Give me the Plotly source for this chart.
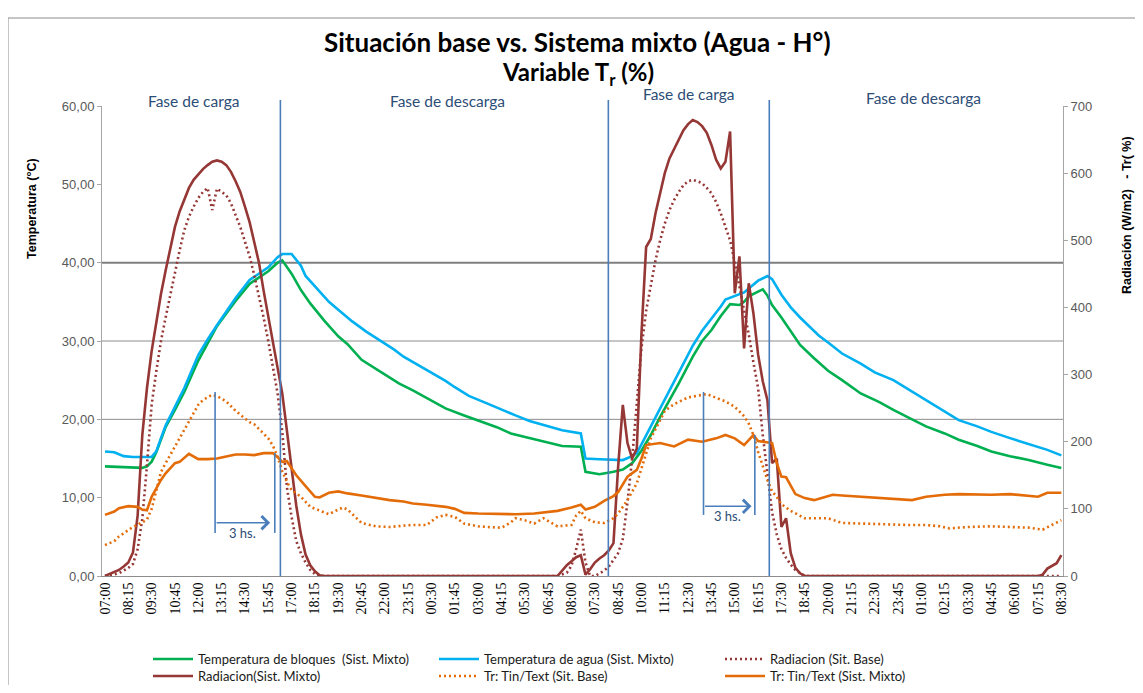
import plotly.graph_objects as go

# ---------------- data (x = 15-minute sample index) ----------------
tick_labels = ["07:00", "08:15", "09:30", "10:45", "12:00", "13:15", "14:30", "15:45", "17:00", "18:15",
               "19:30", "20:45", "22:00", "23:15", "00:30", "01:45", "03:00", "04:15", "05:30", "06:45",
               "08:00", "07:30", "08:45", "10:00", "11:15", "12:30", "13:45", "15:00", "16:15", "17:30",
               "18:45", "20:00", "21:15", "22:30", "23:45", "01:00", "02:15", "03:30", "04:45", "06:00",
               "07:15", "08:30"]
tick_step = 5

temp_bloques = [(0, 14.0), (4, 13.9), (8, 13.8), (9, 14.0), (10, 14.6), (11, 15.8), (12, 17.5), (13, 19.0),
                (15, 21.2), (17, 23.5), (20, 27.5), (22, 29.7), (24, 31.9), (26, 33.5), (28, 35.1), (31, 37.3),
                (33, 38.1), (35, 38.9), (37, 40.0), (38, 40.3), (40, 38.6), (42, 36.5), (44, 34.8), (47, 32.6),
                (50, 30.6), (52, 29.6), (55, 27.6), (59, 26.1), (63, 24.6), (66, 23.7), (70, 22.4), (73, 21.4),
                (77, 20.5), (80, 19.9), (84, 19.0), (87, 18.2), (91, 17.6), (95, 17.0), (98, 16.6), (102, 16.5),
                (103, 13.3), (106, 13.0), (109, 13.3), (111, 13.6), (113, 14.4), (115, 16.0), (117, 18.0),
                (119, 20.3), (121, 22.4), (123, 24.6), (126, 28.0), (128, 30.0), (130, 31.4), (132, 33.2),
                (134, 34.7), (136, 34.6), (137, 35.0), (138, 35.7), (140, 36.3), (141, 36.6), (142, 35.8),
                (143, 34.6), (145, 33.0), (147, 31.3), (149, 29.5), (152, 27.8), (155, 26.2), (158, 25.0),
                (162, 23.3), (166, 22.2), (169, 21.2), (173, 20.0), (176, 19.1), (180, 18.2), (183, 17.4),
                (187, 16.6), (190, 15.9), (194, 15.3), (198, 14.8), (202, 14.2), (205, 13.8)]

temp_agua = [(0, 15.9), (2, 15.8), (4, 15.3), (6, 15.2), (10, 15.2), (11, 15.9), (12, 17.6), (13, 19.2),
             (15, 21.6), (17, 24.0), (20, 28.2), (22, 30.2), (24, 32.0), (26, 33.8), (28, 35.5), (31, 37.8),
             (33, 38.6), (35, 39.4), (37, 40.7), (38, 41.1), (40, 41.1), (42, 39.6), (43, 38.3), (45, 37.0),
             (48, 35.0), (50, 34.0), (53, 32.5), (56, 31.2), (59, 30.1), (62, 28.9), (64, 28.0), (67, 27.0),
             (70, 25.9), (73, 24.9), (75, 24.1), (78, 23.0), (82, 22.0), (85, 21.2), (88, 20.5), (91, 19.8),
             (95, 19.1), (98, 18.6), (102, 18.2), (103, 15.0), (106, 14.9), (111, 14.8), (113, 15.3),
             (114, 15.7), (115, 16.8), (117, 19.1), (119, 21.3), (121, 23.5), (124, 27.0), (126, 29.4),
             (128, 31.3), (130, 32.8), (132, 34.4), (133, 35.3), (135, 35.7), (137, 36.2), (138, 36.7),
             (140, 37.7), (142, 38.3), (143, 37.9), (145, 35.9), (147, 34.3), (149, 33.0), (151, 31.8),
             (153, 30.7), (155, 29.8), (158, 28.4), (162, 27.1), (165, 26.0), (169, 25.0), (172, 23.9),
             (176, 22.5), (180, 21.0), (183, 19.9), (187, 19.1), (190, 18.4), (194, 17.6), (198, 16.9),
             (202, 16.1), (205, 15.4)]

rad_base = [(0, 0), (2, 2), (3, 4), (5, 12), (6, 18), (7, 40), (8, 85), (9, 165), (10, 255), (11, 305),
            (12, 350), (13, 385), (14, 420), (15, 455), (16, 485), (17, 515), (18, 535), (19, 550), (20, 563),
            (21, 572), (22, 578), (23, 545), (24, 577), (25, 572), (26, 567), (27, 555), (28, 538), (29, 520),
            (30, 498), (31, 476), (32, 448), (33, 418), (34, 385), (35, 350), (36, 312), (37, 272), (38, 215),
            (39, 132), (40, 88), (41, 52), (42, 34), (43, 20), (44, 9), (45, 3), (46, 0), (97, 0), (99, 5),
            (100, 15), (101, 40), (102, 69), (103, 20), (104, 0), (105, 0), (107, 8), (108, 14), (109, 25),
            (110, 34), (111, 55), (112, 110), (113, 175), (114, 255), (115, 340), (116, 395), (117, 435),
            (118, 470), (119, 500), (120, 525), (121, 545), (122, 560), (123, 572), (124, 582), (125, 588),
            (126, 590), (127, 588), (128, 585), (129, 578), (130, 570), (131, 557), (132, 540), (133, 520),
            (134, 500), (135, 467), (136, 433), (137, 395), (138, 360), (139, 318), (140, 280), (141, 210),
            (142, 150), (143, 95), (144, 62), (145, 40), (146, 27), (147, 17), (148, 9), (149, 4), (150, 0),
            (205, 0)]

rad_mixto = [(0, 0), (1, 3), (2, 6), (3, 9), (4, 14), (5, 20), (6, 35), (7, 90), (8, 210), (9, 280),
             (10, 335), (11, 380), (12, 420), (13, 455), (14, 490), (15, 520), (16, 543), (17, 562), (18, 578),
             (19, 590), (20, 598), (21, 606), (22, 612), (23, 617), (24, 619), (25, 617), (26, 612), (27, 602),
             (28, 588), (29, 572), (30, 550), (31, 527), (32, 497), (33, 467), (34, 425), (35, 385), (36, 345),
             (37, 310), (38, 272), (39, 215), (40, 160), (41, 105), (42, 62), (43, 32), (44, 16), (45, 7),
             (46, 1), (47, 0), (97, 0), (98, 8), (99, 16), (100, 22), (101, 28), (102, 31), (103, 2), (104, 10),
             (105, 20), (106, 26), (107, 31), (108, 38), (109, 49), (110, 163), (111, 255), (112, 198),
             (113, 175), (114, 190), (115, 361), (116, 490), (117, 502), (118, 540), (119, 572), (120, 600),
             (121, 622), (122, 636), (123, 652), (124, 664), (125, 673), (126, 679), (127, 676), (128, 670),
             (129, 660), (130, 642), (131, 620), (132, 607), (133, 617), (134, 662), (135, 421), (136, 476),
             (137, 339), (138, 436), (139, 391), (140, 330), (141, 290), (142, 262), (143, 168), (144, 175),
             (145, 73), (146, 86), (147, 34), (148, 12), (149, 4), (150, 0), (200, 0), (201, 2), (202, 11),
             (203, 15), (204, 19), (205, 31)]

tr_base = [(0, 46), (2, 52), (3, 59), (5, 68), (6, 73), (8, 80), (9, 84), (10, 100), (11, 128), (12, 155),
           (13, 168), (15, 193), (17, 218), (18, 232), (20, 255), (21, 262), (23, 270), (24, 268), (26, 260),
           (28, 246), (29, 240), (31, 229), (32, 226), (34, 212), (35, 205), (36, 194), (37, 178), (38, 156),
           (39, 140), (40, 128), (41, 123), (42, 118), (44, 103), (46, 97), (48, 92), (50, 99), (51, 102),
           (52, 99), (54, 85), (55, 79), (58, 74), (61, 73), (64, 75), (66, 76), (69, 76), (71, 87), (73, 91),
           (75, 88), (77, 78), (80, 74), (82, 73), (85, 72), (87, 80), (88, 86), (90, 83), (92, 78), (94, 86),
           (96, 78), (97, 74), (100, 76), (101, 90), (102, 97), (103, 86), (105, 80), (107, 79), (109, 86),
           (110, 93), (112, 113), (114, 138), (115, 160), (117, 205), (119, 232), (120, 246), (122, 256),
           (125, 266), (129, 271), (133, 260), (135, 252), (137, 238), (138, 227), (139, 210), (140, 185),
           (141, 163), (142, 143), (143, 126), (144, 118), (145, 107), (147, 97), (150, 86), (155, 86),
           (158, 79), (162, 78), (165, 78), (169, 76), (172, 76), (176, 76), (179, 74), (181, 71), (185, 73),
           (190, 74), (194, 73), (198, 72), (201, 69), (203, 76), (205, 83)]

tr_mixto = [(0, 91), (2, 96), (3, 101), (5, 104), (7, 103), (8, 99), (9, 98), (10, 118), (12, 143), (13, 153),
            (15, 168), (16, 170), (18, 182), (20, 174), (22, 174), (24, 175), (26, 178), (28, 181), (30, 181),
            (32, 180), (34, 183), (36, 183), (37, 177), (38, 170), (39, 171), (41, 150), (43, 134), (45, 118),
            (46, 117), (48, 124), (50, 126), (52, 123), (55, 120), (58, 116), (61, 113), (64, 111), (66, 108),
            (69, 106), (73, 103), (75, 100), (77, 94), (80, 93), (84, 92), (88, 92), (92, 93), (95, 96),
            (97, 97), (100, 102), (102, 106), (103, 99), (105, 103), (107, 112), (109, 119), (110, 125),
            (112, 148), (114, 158), (115, 175), (116, 195), (119, 198), (122, 193), (125, 203), (128, 200),
            (131, 205), (133, 210), (135, 205), (137, 195), (139, 210), (140, 201), (143, 198), (144, 168),
            (145, 148), (146, 147), (148, 122), (150, 116), (152, 113), (154, 117), (156, 121), (158, 120),
            (162, 118), (166, 117), (170, 115), (173, 113), (176, 118), (180, 121), (183, 122), (187, 121),
            (190, 121), (194, 122), (197, 120), (200, 118), (202, 124), (205, 124)]

phase_lines = [37.6, 107.9, 142.4]          # sample index of phase changes
phase_labels = [("Fase de carga", 19.0, 101), ("Fase de descarga", 73.5, 101),
                ("Fase de carga", 125.0, 94), ("Fase de descarga", 175.5, 98)]
# 3 h lag markers: (start idx, end idx, end-line idx, arrow temp, top temp left, top temp right, bottom temp)
lag_marks = [(23.6, 35.4, 36.4, 6.8, 23.5, 15.7, 5.5), (128.3, 138.6, 139.3, 8.9, 23.5, 18.0, 7.8)]

# ---------------- styling ----------------
CAL = "Lato, Liberation Sans, Arial, sans-serif"
GREEN = "#00B050"
BLUE = "#00B0F0"
DRED = "#953735"
ORANGE = "#E36C09"
PHASE_BLUE = "#4A7EBB"
TEXT_BLUE = "#2C4D75"

# the page body adds an 8 px margin around the figure
PAGE_OFF = 8
FIG_W, FIG_H = 1143 - 2 * PAGE_OFF, 693 - 2 * PAGE_OFF
# plot area in page pixels: x 102..1063, y 106..576
PL, PR, PT, PB = 102, 1063, 106, 576
L, T = PL - PAGE_OFF, PT - PAGE_OFF
R, B = FIG_W - (PR - PAGE_OFF), FIG_H - (PB - PAGE_OFF)
PW, PH = PR - PL, PB - PT


def px_x(px):
    return (px - PL) / PW


def px_y(py):
    return (PB - py) / PH


def split(pairs):
    return [p[0] for p in pairs], [p[1] for p in pairs]


fig = go.Figure()

series = [
    ("Temperatura de bloques  (Sist. Mixto)", temp_bloques, GREEN, "solid", "y", "legend"),
    ("Temperatura de agua (Sist. Mixto)", temp_agua, BLUE, "solid", "y", "legend"),
    ("Radiacion (Sit. Base)", rad_base, DRED, "dot", "y2", "legend"),
    ("Radiacion(Sist. Mixto)", rad_mixto, DRED, "solid", "y2", "legend2"),
    ("Tr: Tin/Text (Sit. Base)", tr_base, ORANGE, "dot", "y2", "legend2"),
    ("Tr: Tin/Text (Sist. Mixto)", tr_mixto, ORANGE, "solid", "y2", "legend2"),
]
for name, data, color, dash, axis, leg in series:
    xs, ys = split(data)
    fig.add_trace(go.Scatter(
        x=xs, y=ys, name=name, mode="lines", yaxis=axis, legend=leg,
        line=dict(color=color, width=2.6, dash="2px,3px" if dash == "dot" else "solid"),
        hoverinfo="skip"))

shapes = []
# horizontal gridlines (only at 20, 30, 40 in the original)
for gv, w, c in [(20, 1, "#8C8C8C"), (30, 1, "#8C8C8C"), (40, 2, "#7F7F7F")]:
    shapes.append(dict(type="line", xref="paper", x0=0, x1=1, yref="y", y0=gv, y1=gv,
                       line=dict(color=c, width=w), layer="below"))
# phase lines
for px in phase_lines:
    shapes.append(dict(type="line", xref="x", x0=px, x1=px, yref="paper", y0=0, y1=px_y(100),
                       line=dict(color=PHASE_BLUE, width=1.6)))
# 3 h markers
annotations = []
for x0, x1, xr, ya, ytl, ytr, yb in lag_marks:
    shapes.append(dict(type="line", xref="x", yref="y", x0=x0, x1=x0, y0=yb, y1=ytl,
                       line=dict(color=PHASE_BLUE, width=1.6)))
    shapes.append(dict(type="line", xref="x", yref="y", x0=xr, x1=xr, y0=yb, y1=ytr,
                       line=dict(color=PHASE_BLUE, width=1.6)))
    annotations.append(dict(x=x1, y=ya, ax=x0, ay=ya, xref="x", yref="y", axref="x", ayref="y",
                            text="", showarrow=True, arrowhead=4, arrowsize=1.6, arrowwidth=1.6,
                            arrowcolor=PHASE_BLUE))
    annotations.append(dict(x=(x0 + x1) / 2, y=ya, xref="x", yref="y", text="3 hs.", showarrow=False,
                            xanchor="center", yanchor="top", yshift=0,
                            font=dict(family=CAL, size=13, color=TEXT_BLUE)))

# outer chart border
shapes.append(dict(type="rect", xref="paper", yref="paper", x0=px_x(8), x1=px_x(1141), y0=px_y(720),
                   y1=px_y(18), line=dict(color="#8C8C8C", width=1), fillcolor="rgba(0,0,0,0)",
                   layer="below"))

# phase labels
for txt, xi, ypx in phase_labels:
    annotations.append(dict(x=xi, xref="x", y=px_y(ypx), yref="paper", text=txt, showarrow=False,
                            xanchor="center", yanchor="middle",
                            font=dict(family=CAL, size=15.5, color=TEXT_BLUE)))

# titles
annotations.append(dict(x=px_x(577), y=px_y(42), xref="paper", yref="paper", xanchor="center",
                        yanchor="middle", text="<b>Situación base vs. Sistema mixto (Agua - H°)</b>",
                        showarrow=False, font=dict(family=CAL, size=26, color="#000000")))
annotations.append(dict(x=px_x(578), y=px_y(73), xref="paper", yref="paper", xanchor="center",
                        yanchor="middle", text="<b>Variable T<sub>r</sub> (%)</b>", showarrow=False,
                        font=dict(family=CAL, size=24, color="#000000")))
annotations.append(dict(x=px_x(32), y=px_y(209), xref="paper", yref="paper", xanchor="center",
                        yanchor="middle", text="<b>Temperatura (°C)</b>", textangle=-90, showarrow=False,
                        font=dict(family="Liberation Sans, Arial, sans-serif", size=12.5, color="#000000")))
annotations.append(dict(x=px_x(1127), y=px_y(215), xref="paper", yref="paper", xanchor="center",
                        yanchor="middle", text="<b>Radiación (W/m2)   - Tr( %)</b>", textangle=-90,
                        showarrow=False,
                        font=dict(family="Liberation Sans, Arial, sans-serif", size=12.5, color="#000000")))

tick_vals = [i * tick_step for i in range(len(tick_labels))]

legend_common = dict(orientation="h", xanchor="left", yanchor="middle", entrywidth=231,
                     entrywidthmode="pixels", traceorder="normal", itemwidth=40,
                     font=dict(family=CAL, size=13, color="#1a1a1a"), bgcolor="rgba(0,0,0,0)")

fig.update_layout(
    width=FIG_W, height=FIG_H,
    margin=dict(l=L, r=R, t=T, b=B, autoexpand=False),
    paper_bgcolor="white", plot_bgcolor="white",
    showlegend=True,
    legend=dict(x=px_x(148), y=px_y(659), **legend_common),
    legend2=dict(x=px_x(148), y=px_y(676), **legend_common),
    xaxis=dict(range=[-0.64, 205.36], tickmode="array", tickvals=tick_vals, ticktext=tick_labels,
               tickangle=-90, showgrid=False, zeroline=False, showline=True, linecolor="#8C8C8C",
               ticks="", automargin=False,
               tickfont=dict(family="Liberation Serif, Times New Roman, serif", size=14, color="#000000")),
    yaxis=dict(range=[0, 60], tickmode="array", tickvals=[0, 10, 20, 30, 40, 50, 60],
               ticktext=["0,00", "10,00", "20,00", "30,00", "40,00", "50,00", "60,00"],
               showgrid=False, zeroline=False, showline=True, linecolor="#A6A6A6", ticks="outside",
               ticklen=4, tickcolor="#A6A6A6", automargin=False,
               tickfont=dict(family="Liberation Sans, Arial, sans-serif", size=13, color="#595959")),
    yaxis2=dict(range=[0, 700], overlaying="y", side="right", tickmode="array",
                tickvals=[0, 100, 200, 300, 400, 500, 600, 700], showgrid=False, zeroline=False,
                showline=True, linecolor="#A6A6A6", ticks="outside", ticklen=4, tickcolor="#A6A6A6",
                automargin=False,
                tickfont=dict(family="Liberation Sans, Arial, sans-serif", size=13, color="#595959")),
    shapes=shapes,
    annotations=annotations,
)

fig.write_html("out.html")
